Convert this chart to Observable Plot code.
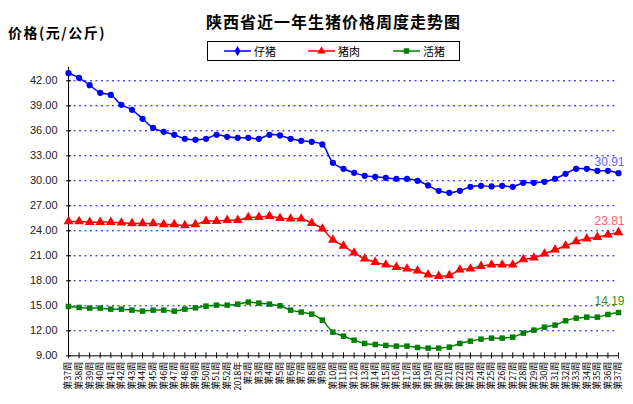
<!DOCTYPE html>
<html><head><meta charset="utf-8">
<script src="https://cdn.jsdelivr.net/npm/d3@7"></script>
<script src="https://cdn.jsdelivr.net/npm/@observablehq/plot@0.6"></script>
<style>
body{margin:0;background:#fff;}
#wrap{position:relative;width:633px;height:404px;font-family:"Noto Sans CJK SC",sans-serif;overflow:hidden;}
#wrap svg.chart{position:absolute;left:0;top:0;}
#title{position:absolute;left:0;width:667px;top:9px;text-align:center;font-size:16px;font-weight:bold;letter-spacing:1px;color:#000;z-index:2;}
#ylab{position:absolute;left:8px;top:22px;font-size:14px;font-weight:bold;letter-spacing:1.5px;color:#000;z-index:2;}
#legend{position:absolute;left:207px;top:41px;width:251px;height:18px;border:1px solid #000;background:#fff;z-index:2;}
.item{position:absolute;top:0;height:18px;display:flex;align-items:center;font-size:11px;color:#000;}
.item svg{margin-right:3px;}
</style></head>
<body>
<div id="wrap">
  <div id="title">陕西省近一年生猪价格周度走势图</div>
  <div id="ylab">价格(元/公斤)</div>
  <div id="legend"></div>
</div>
<script>
const weekLabels = ["第37周","第38周","第39周","第40周","第41周","第42周","第43周","第44周","第45周","第46周","第47周","第48周","第49周","第50周","第51周","第52周","2018年","第2周","第3周","第4周","第5周","第6周","第7周","第8周","第9周","第10周","第11周","第12周","第13周","第14周","第15周","第16周","第17周","第18周","第19周","第20周","第21周","第22周","第23周","第24周","第25周","第26周","第27周","第28周","第29周","第30周","第31周","第32周","第33周","第34周","第35周","第36周","第37周"];

const seriesNames = ["仔猪","猪肉","活猪"];

const piglet = [42.91,42.36,41.47,40.56,40.30,39.12,38.52,37.44,36.36,35.88,
  35.52,35.04,34.92,35.04,35.52,35.28,35.16,35.16,35.04,35.52,
  35.44,35.04,34.80,34.68,34.36,32.16,31.44,30.96,30.60,30.48,
  30.36,30.24,30.24,30.00,29.44,28.80,28.56,28.80,29.28,29.40,
  29.32,29.40,29.28,29.76,29.76,29.88,30.24,30.84,31.44,31.44,
  31.20,31.20,30.91];

const pork = [25.12,25.12,25.04,25.04,25.04,24.96,24.88,24.88,24.88,24.76,
  24.76,24.64,24.76,25.16,25.16,25.28,25.28,25.60,25.64,25.76,
  25.52,25.44,25.44,24.92,24.24,22.90,22.18,21.36,20.64,20.24,
  19.92,19.64,19.44,19.20,18.72,18.56,18.64,19.32,19.44,19.76,
  19.92,19.92,19.92,20.56,20.76,21.24,21.72,22.20,22.72,23.04,
  23.24,23.52,23.81];

const hog = [14.92,14.80,14.72,14.72,14.60,14.60,14.48,14.36,14.48,14.48,
  14.36,14.60,14.76,14.96,15.08,15.08,15.20,15.44,15.32,15.20,
  15.00,14.48,14.24,14.00,13.28,11.84,11.36,10.88,10.48,10.36,
  10.24,10.16,10.16,10.00,9.92,9.92,10.04,10.48,10.76,11.00,
  11.12,11.12,11.24,11.72,12.08,12.44,12.68,13.20,13.52,13.64,
  13.64,13.96,14.19];

const yTicks = [9,12,15,18,21,24,27,30,33,36,39,42];

const colors = ["#0000ff","#ff0000","#008000"];
const symbols = ["circle","triangle","square"];
const labelColors = ["#6464f0","#ff5a6e","#3a8c2a"];
const values = [piglet, pork, hog];

const idx = weekLabels.map((_, i) => i);
const rows = [];
values.forEach((arr, s) => arr.forEach((v, i) => rows.push({i, v, s: seriesNames[s]})));
const last = values.map((arr, s) => ({i: arr.length - 1, v: arr[arr.length - 1], s: seriesNames[s]}));

const marks = [
  Plot.ruleY(yTicks.filter(d => d > 9), {stroke: "#0000ff", strokeDasharray: "2,3.5", strokeWidth: 1}),
  Plot.ruleX([0], {stroke: "#000"}),
  Plot.ruleY([9], {stroke: "#000"}),
  Plot.ruleY(yTicks, {x1: 0, x2: 0.3, stroke: "#000"}),
  Plot.ruleX(idx, {x: d => d, y1: 9, y2: 9.35, stroke: "#000"}),
  Plot.axisY({ticks: yTicks, tickFormat: d => d.toFixed(2), tickSize: 2, tickPadding: 9, fontSize: 11, fontFamily: "Liberation Sans", fill: "#222", label: null}),
  Plot.axisX({ticks: idx, tickFormat: i => weekLabels[i], tickSize: 3, tickRotate: -90, tickPadding: 3, fontSize: 9, label: null})
];
seriesNames.forEach((name, s) => {
  const data = rows.filter(r => r.s === name);
  marks.push(Plot.line(data, {x: "i", y: "v", stroke: colors[s], strokeWidth: 1.5, curve: "catmull-rom"}));
  marks.push(Plot.dot(data, {x: "i", y: "v", fill: colors[s], stroke: "none", symbol: symbols[s], r: s === 1 ? 3.6 : 3.1}));
  marks.push(Plot.text([last[s]], {x: "i", y: "v", text: d => d.v.toFixed(2), textAnchor: "end", dx: 6, dy: -11, fill: labelColors[s], fontSize: 12, fontFamily: "Liberation Sans"}));
});

const chart = Plot.plot({
  width: 633, height: 404,
  marginTop: 66.7, marginBottom: 48.7, marginLeft: 68, marginRight: 15,
  x: {domain: [0, 52]},
  y: {domain: [9, 43.63]},
  style: {fontFamily: "'Noto Sans CJK SC', sans-serif", fontSize: "9px", color: "#000", background: "transparent"},
  marks
});
chart.classList.add("chart");
document.getElementById("wrap").appendChild(chart);

// legend
const legend = document.getElementById("legend");
const lx = [16, 100, 185];
seriesNames.forEach((name, s) => {
  const it = document.createElement("div");
  it.className = "item";
  it.style.left = lx[s] + "px";
  const sym = d3.symbol(d3[{circle: "symbolDiamond", triangle: "symbolTriangle", square: "symbolSquare"}[symbols[s]]], 30)();
  it.innerHTML = `<svg width="27" height="10"><line x1="0" x2="27" y1="5" y2="5" stroke="${colors[s]}" stroke-width="1.5"/><path d="${sym}" transform="translate(13.5,5)" fill="${colors[s]}"/></svg><span>${name}</span>`;
  legend.appendChild(it);
});
</script>
</body></html>
